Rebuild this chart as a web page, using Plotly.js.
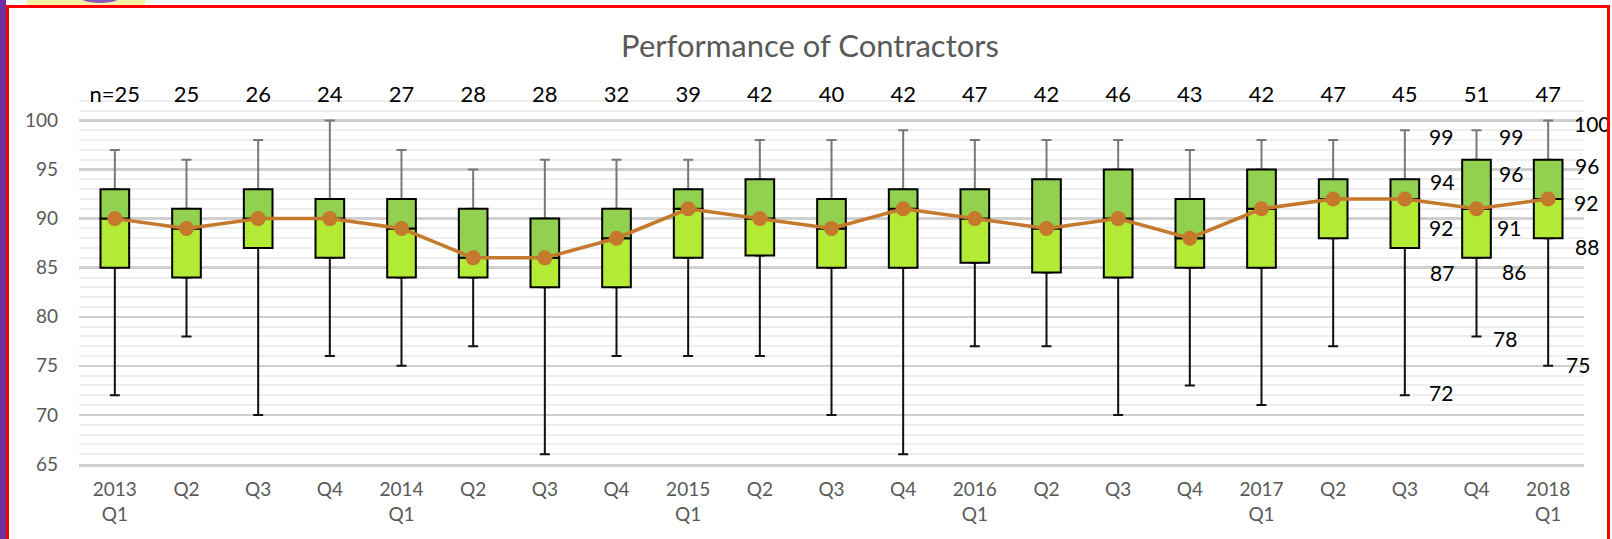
<!DOCTYPE html>
<html>
<head>
<meta charset="utf-8">
<script src="https://cdn.plot.ly/plotly-3.0.1.min.js"></script>
<style>
  html, body { margin: 0; padding: 0; background: #ffffff; width: 1612px; height: 539px; overflow: hidden; }
  #chart { position: absolute; left: 0; top: 0; width: 1612px; height: 539px; }
  .deco { position: absolute; pointer-events: none; }
</style>
</head>
<body>
<div id="chart"></div>
<div class="deco" style="left:0;top:0;width:6px;height:539px;background:#7030a0;"></div>
<div class="deco" style="left:27px;top:0;width:118px;height:5px;background:#fbf2a6;overflow:hidden;">
  <div style="position:absolute;left:46px;top:-22px;width:54px;height:25px;border-radius:50%;background:#8a5bb8;"></div>
</div>
<div class="deco" style="left:6px;top:5px;width:3px;height:534px;background:#ff0000;"></div>
<div class="deco" style="left:6px;top:5px;width:1604px;height:3px;background:#ff0000;"></div>
<div class="deco" style="left:1607px;top:5px;width:3px;height:534px;background:#ff0000;"></div>
<script>
// ---- data ----
const quarterLabels = ['2013<br>Q1','Q2','Q3','Q4','2014<br>Q1','Q2','Q3','Q4',
  '2015<br>Q1','Q2','Q3','Q4','2016<br>Q1','Q2','Q3','Q4','2017<br>Q1','Q2','Q3','Q4','2018<br>Q1'];
const nCounts   = [25,25,26,24,27,28,28,32,39,42,40,42,47,42,46,43,42,47,45,51,47];
const maxScore  = [97,96,98,100,97,95,96,96,96,98,98,99,98,98,98,97,98,98,99,99,100];
const q3Score   = [93,91,93,92,92,91,90,91,93,94,92,93,93,94,95,92,95,94,94,96,96];
const medScore  = [90,89,90,90,89,86,86,88,91,90,89,91,90,89,90,88,91,92,92,91,92];
const q1Score   = [85,84,87,86,84,84,83,83,86,86.25,85,85,85.5,84.5,84,85,85,88,87,86,88];
const minScore  = [72,78,70,76,75,77,66,76,76,76,70,66,77,77,70,73,71,77,72,78,75];
const labelledQuarters = [18, 19, 20];

// ---- styles ----
const FONT = 'Lato, "Open Sans", sans-serif';
const GREY = '#595959';
const idx = quarterLabels.map((_, i) => i);
const BOXW = 0.4;

// pixel offsets of the value labels (style only)
const labelShift = {
  max: { dx: [36, 34, 44], dy: [-6, -6, -3] },
  q3:  { dx: [37, 34, 39], dy: [-2, -14, -6] },
  med: { dx: [36, 32, 38], dy: [-29, -19, -4] },
  q1:  { dx: [37, 37, 39], dy: [-24, -14, -8] },
  min: { dx: [36, 28, 30], dy: [3, -2, 1] }
};
const statArrays = { max: maxScore, q3: q3Score, med: medScore, q1: q1Score, min: minScore };

const upperWhisker = {
  type: 'bar', x: idx, base: medScore,
  y: idx.map(i => q3Score[i] - medScore[i]), width: BOXW,
  marker: { color: 'rgba(0,0,0,0)', line: { width: 0 } },
  error_y: { type: 'data', symmetric: false,
    array: idx.map(i => maxScore[i] - q3Score[i]), arrayminus: idx.map(() => 0),
    color: '#787878', thickness: 2, width: 5 },
  hoverinfo: 'skip', showlegend: false
};
const lowerWhisker = {
  type: 'bar', x: idx, base: medScore,
  y: idx.map(i => q1Score[i] - medScore[i]), width: BOXW,
  marker: { color: 'rgba(0,0,0,0)', line: { width: 0 } },
  error_y: { type: 'data', symmetric: false,
    array: idx.map(() => 0), arrayminus: idx.map(i => q1Score[i] - minScore[i]),
    color: '#111111', thickness: 2, width: 5 },
  hoverinfo: 'skip', showlegend: false
};
const lowerBox = {
  type: 'bar', x: idx, base: q1Score,
  y: idx.map(i => medScore[i] - q1Score[i]), width: BOXW,
  marker: { color: '#b3ea35', line: { color: '#000000', width: 2 } },
  hoverinfo: 'skip', showlegend: false
};
const upperBox = {
  type: 'bar', x: idx, base: medScore,
  y: idx.map(i => q3Score[i] - medScore[i]), width: BOXW,
  marker: { color: '#92d050', line: { color: '#000000', width: 2 } },
  hoverinfo: 'skip', showlegend: false
};
const medianLine = {
  type: 'scatter', mode: 'lines+markers', x: idx, y: medScore,
  line: { color: '#c4792d', width: 3.5 },
  marker: { color: '#c4792d', size: 15 },
  hoverinfo: 'skip', showlegend: false
};
const nLabels = {
  type: 'scatter', mode: 'text', x: idx, y: idx.map(() => 102.45),
  text: nCounts.map((n, i) => (i === 0 ? 'n=' : '') + n),
  textposition: 'middle center',
  textfont: { family: FONT, size: 22, color: '#000000' },
  hoverinfo: 'skip', showlegend: false, cliponaxis: false
};

const annotations = [];
labelledQuarters.forEach((q, j) => {
  Object.keys(statArrays).forEach(k => {
    annotations.push({
      x: q, y: statArrays[k][q], xref: 'x', yref: 'y',
      text: String(statArrays[k][q]), showarrow: false,
      xshift: labelShift[k].dx[j], yshift: labelShift[k].dy[j],
      xanchor: 'center', yanchor: 'middle',
      font: { family: FONT, size: 21, color: '#000000' }
    });
  });
});

const layout = {
  width: 1612, height: 539,
  margin: { l: 79, r: 28, t: 91, b: 75, pad: 0 },
  paper_bgcolor: 'rgba(0,0,0,0)', plot_bgcolor: 'rgba(0,0,0,0)',
  barmode: 'overlay',
  showlegend: false,
  title: {
    text: 'Performance of Contractors',
    font: { family: FONT, size: 31, color: GREY },
    x: 810 / 1612, xanchor: 'center', xref: 'container',
    y: 1 - 46 / 539, yanchor: 'middle', yref: 'container'
  },
  xaxis: {
    range: [-0.5, 20.5], tickmode: 'array', tickvals: idx, ticktext: quarterLabels,
    showgrid: false, zeroline: false, showline: true, linecolor: '#cfcfcf', linewidth: 2.5, ticks: '',
    tickfont: { family: FONT, size: 19, color: GREY }, ticklabelstandoff: 7, fixedrange: true
  },
  yaxis: {
    range: [65, 103], tickmode: 'linear', tick0: 65, dtick: 5,
    showgrid: true, gridcolor: '#cfcfcf', gridwidth: 2.5,
    minor: { tickmode: 'linear', tick0: 65, dtick: 1, showgrid: true, gridcolor: '#eeeeee', gridwidth: 2 },
    zeroline: false, showline: false, ticks: '',
    tickfont: { family: FONT, size: 19, color: GREY }, ticklabelstandoff: 20, fixedrange: true
  },
  annotations: annotations
};

Plotly.newPlot('chart', [upperWhisker, lowerWhisker, lowerBox, upperBox, medianLine, nLabels], layout,
  { displayModeBar: false, staticPlot: true });
</script>
</body>
</html>
